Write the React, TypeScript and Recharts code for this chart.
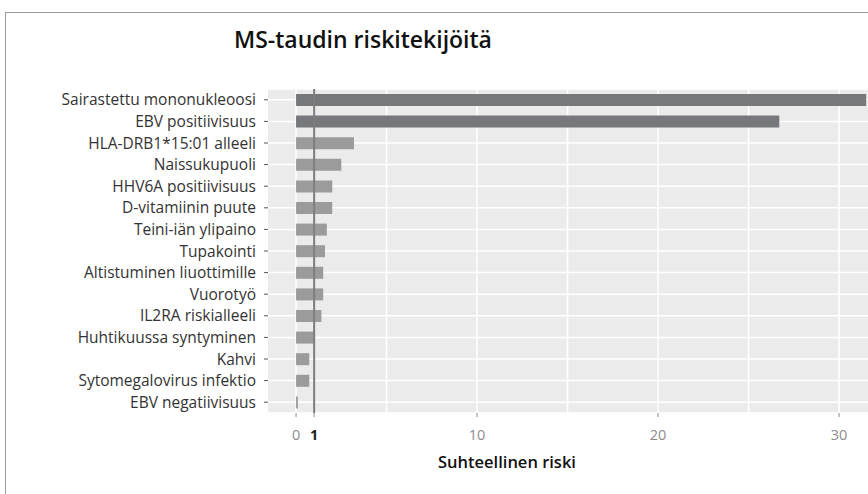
import { Bar, BarChart, CartesianGrid, Cell, ReferenceLine, XAxis, YAxis } from "recharts";

const factors = [
  "Sairastettu mononukleoosi",
  "EBV positiivisuus",
  "HLA-DRB1*15:01 alleeli",
  "Naissukupuoli",
  "HHV6A positiivisuus",
  "D-vitamiinin puute",
  "Teini-iän ylipaino",
  "Tupakointi",
  "Altistuminen liuottimille",
  "Vuorotyö",
  "IL2RA riskialleeli",
  "Huhtikuussa syntyminen",
  "Kahvi",
  "Sytomegalovirus infektio",
  "EBV negatiivisuus",
];
const risks = [31.5, 26.7, 3.2, 2.5, 2.0, 2.0, 1.7, 1.6, 1.5, 1.5, 1.4, 1.0, 0.73, 0.73, 0.1];
const xTicks = [0, 1, 10, 20, 30];
const gridValues = [0, 5, 10, 15, 20, 25, 30];
const xDomain: [number, number] = [-1.55, 31.6];

const data = factors.map((name, i) => ({ name, risk: risks[i] }));
const font = "'Open Sans', sans-serif";

// vertical grid lines at every 5, drawn under the bars
function gridX({ xAxis, offset }: any) {
  if (xAxis && typeof xAxis.scale === "function") return gridValues.map((v) => xAxis.scale(v));
  const [lo, hi] = xDomain;
  return gridValues.map((v) => offset.left + ((v - lo) / (hi - lo)) * offset.width);
}

function XTick({ x, y, payload }: any) {
  const one = payload.value === 1;
  return (
    <text
      x={x}
      y={y + 21}
      textAnchor="middle"
      fontFamily={font}
      fontSize={14.5}
      fontWeight={one ? 700 : 400}
      fill={one ? "#222" : "#8c8c8c"}
    >
      {payload.value}
    </text>
  );
}

export default function App() {
  return (
    <div style={{ position: "absolute", left: 0, top: 0, width: 868, height: 494, background: "#fff", overflow: "hidden" }}>
      <div
        style={{
          position: "absolute",
          left: 5,
          top: 12,
          width: 870,
          height: 490,
          borderTop: "1px solid #9a9a9a",
          borderLeft: "1px solid #9a9a9a",
        }}
      />
      <div
        style={{
          position: "absolute",
          left: 234,
          top: 23,
          fontFamily: font,
          fontWeight: 600,
          fontSize: 23,
          color: "#111",
          whiteSpace: "nowrap",
        }}
      >
        MS-taudin riskitekijöitä
      </div>
      <div
        style={{
          position: "absolute",
          left: 427,
          top: 450,
          width: 160,
          textAlign: "center",
          fontFamily: font,
          fontWeight: 600,
          fontSize: 16.5,
          color: "#111",
          whiteSpace: "nowrap",
        }}
      >
        Suhteellinen riski
      </div>
      <div style={{ position: "absolute", left: 0, top: 0 }}>
        <BarChart width={868} height={494} data={data} layout="vertical" margin={{ top: 89, right: 0, bottom: 0, left: 0 }}>
          <CartesianGrid fill="#ebebeb" stroke="#ffffff" strokeWidth={1.5} verticalCoordinatesGenerator={gridX} />
          <XAxis
            type="number"
            dataKey="risk"
            domain={xDomain}
            ticks={xTicks}
            allowDataOverflow
            axisLine={false}
            tickLine={{ stroke: "#8c8c8c" }}
            tickSize={4}
            height={81}
            tick={<XTick />}
            interval={0}
          />
          <YAxis
            type="category"
            dataKey="name"
            width={268}
            axisLine={false}
            tickLine={{ stroke: "#555" }}
            tickSize={4}
            tickMargin={8}
            interval={0}
            tick={{ fontFamily: font, fontSize: 15.5, fill: "#333" }}
          />
          <Bar dataKey="risk" barSize={12} isAnimationActive={false}>
            {data.map((d, i) => (
              <Cell key={d.name} fill={i < 2 ? "#77787c" : "#9b9b9c"} />
            ))}
          </Bar>
          <ReferenceLine x={1} stroke="#7d7d7f" strokeWidth={2} />
        </BarChart>
      </div>
    </div>
  );
}
